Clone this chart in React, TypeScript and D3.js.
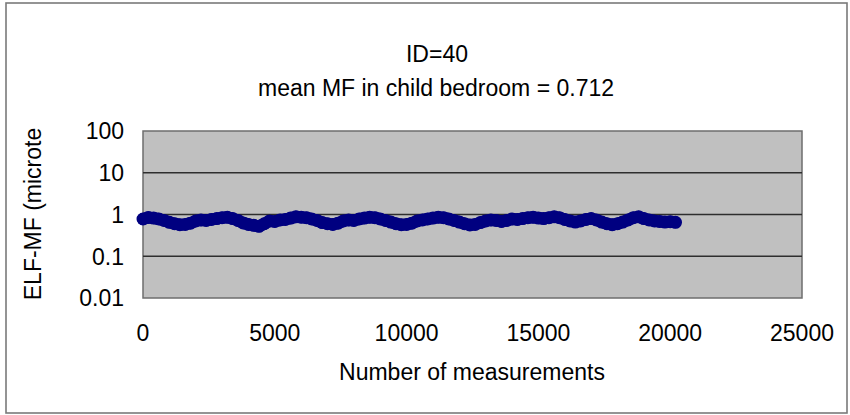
import React from "react";
import * as d3 from "d3";

// Magnetic-field readings (microtesla), one value every STEP measurements
const STEP = 200;
const mfValues: number[] = [
  0.78, 0.85, 0.82, 0.78, 0.72, 0.65, 0.6, 0.57, 0.58, 0.62,
  0.7, 0.74, 0.72, 0.76, 0.8, 0.84, 0.86, 0.8, 0.72, 0.63,
  0.58, 0.55, 0.52, 0.6, 0.7, 0.68, 0.74, 0.76, 0.82, 0.88,
  0.86, 0.84, 0.78, 0.72, 0.64, 0.6, 0.58, 0.62, 0.7, 0.74,
  0.72, 0.78, 0.82, 0.86, 0.84, 0.78, 0.72, 0.66, 0.6, 0.57,
  0.58, 0.62, 0.7, 0.74, 0.78, 0.82, 0.86, 0.84, 0.78, 0.72,
  0.66, 0.6, 0.56, 0.58, 0.64, 0.7, 0.74, 0.72, 0.68, 0.72,
  0.78, 0.76, 0.8, 0.84, 0.86, 0.82, 0.8, 0.84, 0.88, 0.84,
  0.76, 0.7, 0.66, 0.7, 0.76, 0.8, 0.74, 0.66, 0.6, 0.57,
  0.6, 0.66, 0.74, 0.84, 0.88, 0.8, 0.74, 0.7, 0.68, 0.66,
  0.67, 0.65,
];

const xTicks: number[] = [0, 5000, 10000, 15000, 20000, 25000];
const yTicks: number[] = [0.01, 0.1, 1, 10, 100];
const yTickLabels: string[] = ["0.01", "0.1", "1", "10", "100"];

const titleLines: string[] = ["ID=40", "mean MF in child bedroom = 0.712"];
const xAxisTitle = "Number of measurements";
const yAxisTitle = "ELF-MF (microte";

const W = 850;
const H = 415;
const plot = { left: 143, right: 802, top: 131, bottom: 298 };
const FONT = "'Liberation Sans', Arial, sans-serif";
const FS = 23;

export default function App() {
  const x = d3.scaleLinear().domain([0, 25000]).range([plot.left, plot.right]);
  const y = d3.scaleLog().domain([0.01, 100]).range([plot.bottom, plot.top]);

  const points: [number, number][] = mfValues.map((v, i) => [i * STEP, v]);
  const line = d3
    .line<[number, number]>()
    .x((d) => x(d[0]))
    .y((d) => y(d[1]));

  return (
    <svg
      width={W}
      height={H}
      style={{ position: "absolute", left: 0, top: 0, background: "#fff" }}
      fontFamily={FONT}
    >
      <rect x={0} y={0} width={W} height={H} fill="#fff" />
      {/* chart frame */}
      <rect x={6} y={3} width={841} height={410} fill="#fff" stroke="#7a7a7a" strokeWidth={1.6} />

      {/* titles */}
      <text x={437} y={62} textAnchor="middle" fontSize={FS} fill="#000">
        {titleLines[0]}
      </text>
      <text x={436} y={96} textAnchor="middle" fontSize={FS} fill="#000">
        {titleLines[1]}
      </text>

      {/* plot area */}
      <rect
        x={plot.left}
        y={plot.top}
        width={plot.right - plot.left}
        height={plot.bottom - plot.top}
        fill="#c0c0c0"
        stroke="#6e6e6e"
        strokeWidth={1.5}
      />
      {yTicks.slice(1, -1).map((t) => (
        <line
          key={t}
          x1={plot.left}
          x2={plot.right}
          y1={y(t)}
          y2={y(t)}
          stroke="#2e2e2e"
          strokeWidth={1.4}
        />
      ))}

      {/* series */}
      <path
        d={line(points) ?? ""}
        fill="none"
        stroke="#000080"
        strokeWidth={12}
        strokeLinejoin="round"
        strokeLinecap="round"
      />
      {points.map((p, i) => (
        <circle key={i} cx={x(p[0])} cy={y(p[1])} r={6.5} fill="#000080" />
      ))}

      {/* y tick labels */}
      {yTicks.map((t, i) => (
        <text
          key={t}
          x={124}
          y={y(t)}
          dy="0.36em"
          textAnchor="end"
          fontSize={FS}
          fill="#000"
        >
          {yTickLabels[i]}
        </text>
      ))}

      {/* x tick labels */}
      {xTicks.map((t) => (
        <text key={t} x={x(t)} y={341} textAnchor="middle" fontSize={FS} fill="#000">
          {t}
        </text>
      ))}

      <text x={472} y={380} textAnchor="middle" fontSize={FS} fill="#000">
        {xAxisTitle}
      </text>
      <text
        transform={`translate(41, 214) rotate(-90)`}
        textAnchor="middle"
        fontSize={FS}
        fill="#000"
      >
        {yAxisTitle}
      </text>
    </svg>
  );
}
